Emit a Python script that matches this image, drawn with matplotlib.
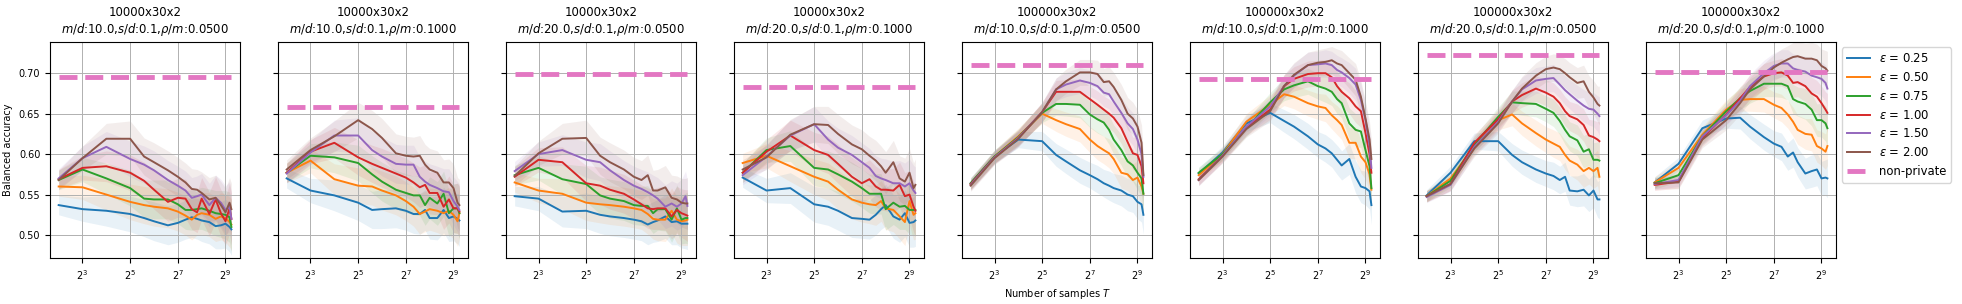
"""Balanced accuracy vs number of samples for private / non-private training."""
import matplotlib

matplotlib.use("Agg")
import matplotlib.pyplot as plt
import numpy as np
from matplotlib.ticker import NullLocator

# x grid shared by every panel (number of samples T)
SAMPLES = [4, 8, 16, 32, 48, 64, 96, 128, 160, 192, 224, 256, 320, 384, 448, 512, 576, 608]
EPSILONS = [0.25, 0.50, 0.75, 1.00, 1.50, 2.00]

SIZES = ["10000x30x2"] * 4 + ["100000x30x2"] * 4
M_OVER_D = [10.0, 10.0, 20.0, 20.0, 10.0, 10.0, 20.0, 20.0]
S_OVER_D = [0.1] * 8
RHO_OVER_M = [0.05, 0.10, 0.05, 0.10, 0.05, 0.10, 0.05, 0.10]
NON_PRIVATE = [0.695, 0.658, 0.699, 0.683, 0.710, 0.693, 0.723, 0.701]

# half-width of the shaded band (std) for the two dataset sizes
SPREAD_10K = [0.012, 0.015, 0.019, 0.022, 0.023, 0.024, 0.024, 0.024, 0.024,
              0.025, 0.025, 0.026, 0.027, 0.028, 0.029, 0.030, 0.031, 0.032]
SPREAD_100K = [0.007, 0.008, 0.010, 0.012, 0.014, 0.015, 0.016, 0.016, 0.017,
               0.017, 0.018, 0.018, 0.019, 0.020, 0.020, 0.021, 0.022, 0.024]

# one list per epsilon, in EPSILONS order
ACC_10K_MD10_R05 = [
    [0.537, 0.532, 0.530, 0.526, 0.521, 0.517, 0.512, 0.515, 0.519, 0.522, 0.520, 0.518, 0.516, 0.511, 0.512, 0.514, 0.510, 0.507],
    [0.560, 0.559, 0.550, 0.541, 0.537, 0.535, 0.533, 0.529, 0.524, 0.519, 0.525, 0.527, 0.525, 0.520, 0.523, 0.521, 0.516, 0.513],
    [0.568, 0.581, 0.570, 0.558, 0.545, 0.544, 0.544, 0.538, 0.531, 0.531, 0.532, 0.533, 0.530, 0.527, 0.526, 0.525, 0.522, 0.510],
    [0.569, 0.583, 0.585, 0.577, 0.567, 0.556, 0.541, 0.546, 0.545, 0.532, 0.528, 0.545, 0.526, 0.544, 0.527, 0.517, 0.533, 0.520],
    [0.570, 0.595, 0.609, 0.594, 0.587, 0.580, 0.568, 0.561, 0.555, 0.546, 0.548, 0.550, 0.537, 0.546, 0.540, 0.531, 0.535, 0.520],
    [0.568, 0.595, 0.619, 0.619, 0.597, 0.590, 0.580, 0.572, 0.565, 0.557, 0.556, 0.552, 0.544, 0.546, 0.537, 0.528, 0.540, 0.532],
]
ACC_10K_MD10_R10 = [
    [0.570, 0.555, 0.549, 0.540, 0.531, 0.532, 0.533, 0.530, 0.526, 0.526, 0.531, 0.521, 0.521, 0.531, 0.521, 0.523, 0.520, 0.518],
    [0.577, 0.592, 0.569, 0.561, 0.560, 0.555, 0.549, 0.542, 0.535, 0.526, 0.529, 0.532, 0.530, 0.527, 0.530, 0.525, 0.517, 0.527],
    [0.577, 0.598, 0.596, 0.589, 0.575, 0.566, 0.556, 0.552, 0.549, 0.549, 0.537, 0.546, 0.539, 0.551, 0.527, 0.533, 0.533, 0.527],
    [0.577, 0.603, 0.614, 0.596, 0.588, 0.583, 0.576, 0.571, 0.565, 0.559, 0.562, 0.552, 0.552, 0.535, 0.544, 0.533, 0.533, 0.529],
    [0.576, 0.602, 0.623, 0.623, 0.605, 0.597, 0.588, 0.587, 0.587, 0.572, 0.566, 0.562, 0.558, 0.554, 0.553, 0.542, 0.535, 0.531],
    [0.581, 0.605, 0.622, 0.642, 0.631, 0.620, 0.601, 0.598, 0.597, 0.598, 0.587, 0.581, 0.577, 0.565, 0.565, 0.558, 0.540, 0.537],
]
ACC_10K_MD20_R05 = [
    [0.548, 0.545, 0.529, 0.530, 0.525, 0.523, 0.521, 0.519, 0.517, 0.513, 0.516, 0.518, 0.523, 0.516, 0.517, 0.514, 0.514, 0.514],
    [0.565, 0.555, 0.551, 0.540, 0.538, 0.537, 0.535, 0.533, 0.531, 0.526, 0.520, 0.519, 0.519, 0.530, 0.519, 0.517, 0.518, 0.519],
    [0.574, 0.583, 0.569, 0.563, 0.549, 0.545, 0.542, 0.537, 0.536, 0.536, 0.527, 0.532, 0.532, 0.519, 0.533, 0.519, 0.521, 0.521],
    [0.572, 0.593, 0.590, 0.564, 0.561, 0.556, 0.551, 0.544, 0.538, 0.533, 0.532, 0.533, 0.533, 0.523, 0.531, 0.527, 0.525, 0.524],
    [0.579, 0.600, 0.605, 0.593, 0.590, 0.580, 0.568, 0.561, 0.557, 0.553, 0.549, 0.545, 0.535, 0.539, 0.535, 0.539, 0.548, 0.536],
    [0.573, 0.601, 0.619, 0.620, 0.598, 0.590, 0.581, 0.572, 0.568, 0.574, 0.555, 0.555, 0.559, 0.546, 0.544, 0.540, 0.539, 0.539],
]
ACC_10K_MD20_R10 = [
    [0.571, 0.555, 0.558, 0.538, 0.535, 0.530, 0.521, 0.520, 0.519, 0.525, 0.532, 0.537, 0.523, 0.519, 0.527, 0.515, 0.516, 0.518],
    [0.589, 0.598, 0.585, 0.572, 0.566, 0.556, 0.544, 0.540, 0.538, 0.537, 0.542, 0.533, 0.531, 0.523, 0.516, 0.542, 0.525, 0.527],
    [0.577, 0.605, 0.610, 0.583, 0.581, 0.575, 0.566, 0.558, 0.551, 0.551, 0.551, 0.532, 0.540, 0.535, 0.536, 0.531, 0.531, 0.531],
    [0.577, 0.603, 0.623, 0.605, 0.599, 0.588, 0.572, 0.564, 0.569, 0.560, 0.556, 0.556, 0.555, 0.562, 0.548, 0.550, 0.535, 0.530],
    [0.574, 0.597, 0.623, 0.637, 0.618, 0.608, 0.599, 0.590, 0.583, 0.573, 0.570, 0.568, 0.564, 0.564, 0.560, 0.564, 0.555, 0.552],
    [0.581, 0.596, 0.624, 0.637, 0.636, 0.625, 0.612, 0.606, 0.598, 0.592, 0.585, 0.577, 0.590, 0.570, 0.566, 0.577, 0.558, 0.562],
]
ACC_100K_MD10_R05 = [
    [0.564, 0.597, 0.618, 0.616, 0.599, 0.591, 0.580, 0.574, 0.569, 0.564, 0.561, 0.558, 0.555, 0.550, 0.548, 0.541, 0.538, 0.525],
    [0.563, 0.597, 0.622, 0.650, 0.642, 0.637, 0.631, 0.618, 0.610, 0.605, 0.601, 0.594, 0.577, 0.575, 0.568, 0.571, 0.560, 0.551],
    [0.564, 0.597, 0.621, 0.651, 0.662, 0.662, 0.661, 0.649, 0.643, 0.639, 0.630, 0.618, 0.605, 0.591, 0.586, 0.577, 0.570, 0.551],
    [0.563, 0.596, 0.620, 0.652, 0.677, 0.677, 0.677, 0.668, 0.661, 0.655, 0.650, 0.645, 0.632, 0.615, 0.601, 0.599, 0.585, 0.564],
    [0.562, 0.596, 0.620, 0.652, 0.680, 0.686, 0.691, 0.688, 0.684, 0.676, 0.674, 0.665, 0.651, 0.638, 0.631, 0.618, 0.600, 0.572],
    [0.561, 0.595, 0.619, 0.652, 0.680, 0.690, 0.701, 0.701, 0.699, 0.689, 0.690, 0.683, 0.667, 0.650, 0.644, 0.634, 0.614, 0.574],
]
ACC_100K_MD10_R10 = [
    [0.576, 0.602, 0.638, 0.651, 0.641, 0.634, 0.622, 0.612, 0.607, 0.601, 0.593, 0.586, 0.594, 0.572, 0.560, 0.558, 0.554, 0.537],
    [0.574, 0.600, 0.640, 0.661, 0.674, 0.671, 0.663, 0.659, 0.657, 0.648, 0.642, 0.636, 0.614, 0.614, 0.597, 0.590, 0.575, 0.556],
    [0.577, 0.600, 0.632, 0.664, 0.680, 0.685, 0.690, 0.684, 0.681, 0.677, 0.668, 0.663, 0.638, 0.630, 0.628, 0.605, 0.585, 0.558],
    [0.569, 0.598, 0.633, 0.655, 0.684, 0.693, 0.699, 0.700, 0.700, 0.695, 0.684, 0.677, 0.669, 0.659, 0.653, 0.626, 0.600, 0.577],
    [0.568, 0.598, 0.634, 0.659, 0.684, 0.697, 0.710, 0.711, 0.712, 0.710, 0.704, 0.701, 0.694, 0.686, 0.667, 0.642, 0.610, 0.583],
    [0.568, 0.597, 0.631, 0.653, 0.684, 0.698, 0.710, 0.713, 0.714, 0.716, 0.712, 0.710, 0.700, 0.692, 0.671, 0.644, 0.618, 0.594],
]
ACC_100K_MD20_R05 = [
    [0.549, 0.577, 0.616, 0.616, 0.599, 0.590, 0.581, 0.576, 0.573, 0.568, 0.572, 0.555, 0.554, 0.556, 0.549, 0.555, 0.544, 0.544],
    [0.548, 0.570, 0.609, 0.642, 0.649, 0.638, 0.626, 0.618, 0.613, 0.609, 0.599, 0.592, 0.587, 0.579, 0.583, 0.579, 0.583, 0.572],
    [0.548, 0.567, 0.612, 0.646, 0.664, 0.663, 0.662, 0.656, 0.651, 0.641, 0.630, 0.622, 0.617, 0.603, 0.606, 0.593, 0.593, 0.592],
    [0.548, 0.563, 0.614, 0.643, 0.665, 0.673, 0.681, 0.676, 0.671, 0.663, 0.653, 0.647, 0.643, 0.636, 0.623, 0.621, 0.618, 0.616],
    [0.547, 0.562, 0.609, 0.640, 0.665, 0.680, 0.691, 0.693, 0.694, 0.686, 0.679, 0.674, 0.666, 0.660, 0.656, 0.655, 0.650, 0.647],
    [0.548, 0.563, 0.607, 0.638, 0.665, 0.681, 0.697, 0.705, 0.707, 0.705, 0.700, 0.695, 0.688, 0.690, 0.677, 0.670, 0.662, 0.660],
]
ACC_100K_MD20_R10 = [
    [0.565, 0.588, 0.632, 0.644, 0.645, 0.634, 0.621, 0.613, 0.609, 0.597, 0.602, 0.590, 0.576, 0.579, 0.581, 0.570, 0.571, 0.570],
    [0.565, 0.583, 0.624, 0.655, 0.667, 0.668, 0.668, 0.661, 0.657, 0.649, 0.640, 0.630, 0.625, 0.624, 0.610, 0.607, 0.603, 0.610],
    [0.564, 0.574, 0.622, 0.653, 0.669, 0.678, 0.687, 0.687, 0.687, 0.684, 0.668, 0.665, 0.662, 0.655, 0.642, 0.642, 0.638, 0.632],
    [0.562, 0.566, 0.620, 0.649, 0.669, 0.683, 0.696, 0.700, 0.701, 0.697, 0.688, 0.689, 0.684, 0.675, 0.671, 0.663, 0.655, 0.651],
    [0.563, 0.568, 0.622, 0.648, 0.666, 0.684, 0.700, 0.709, 0.712, 0.712, 0.706, 0.704, 0.702, 0.697, 0.695, 0.693, 0.688, 0.681],
    [0.564, 0.565, 0.618, 0.642, 0.663, 0.680, 0.696, 0.707, 0.713, 0.717, 0.720, 0.721, 0.718, 0.718, 0.716, 0.709, 0.706, 0.703],
]

PANELS = [
    ACC_10K_MD10_R05, ACC_10K_MD10_R10, ACC_10K_MD20_R05, ACC_10K_MD20_R10,
    ACC_100K_MD10_R05, ACC_100K_MD10_R10, ACC_100K_MD20_R05, ACC_100K_MD20_R10,
]
SPREADS = [SPREAD_10K] * 4 + [SPREAD_100K] * 4

COLORS = ["#1f77b4", "#ff7f0e", "#2ca02c", "#d62728", "#9467bd", "#8c564b"]
NP_COLOR = "#e377c2"


def main():
    plt.rcParams.update({
        "font.size": 7,
        "axes.titlesize": 8.4,
        "axes.labelsize": 7,
        "xtick.labelsize": 7,
        "ytick.labelsize": 7,
        "axes.linewidth": 0.8,
        "grid.linewidth": 0.7,
    })
    fig, axes = plt.subplots(1, 8, figsize=(19.62, 3.04), dpi=100, sharey=True)
    fig.subplots_adjust(left=0.0255, right=0.9358, bottom=0.151, top=0.863, wspace=0.2)

    x = np.array(SAMPLES)
    for i, ax in enumerate(axes):
        spread = np.array(SPREADS[i])
        for eps, vals, color in zip(EPSILONS, PANELS[i], COLORS):
            y = np.array(vals)
            ax.fill_between(x, y - spread, y + spread, color=color, alpha=0.1, linewidth=0)
            ax.plot(x, y, color=color, lw=1.4, label=rf"$\varepsilon$ = {eps:.2f}")
        ax.plot(x, [NON_PRIVATE[i]] * len(x), color=NP_COLOR, lw=3.5, ls="--",
                label="non-private")

        ax.set_xscale("log", base=2)
        ax.set_xticks([8, 32, 128, 512])
        ax.xaxis.set_minor_locator(NullLocator())
        ax.set_yticks([0.50, 0.55, 0.60, 0.65, 0.70])
        ax.set_ylim(0.4715, 0.739)
        ax.grid(True)
        ax.set_title(
            f"{SIZES[i]}\n$m/d$:{M_OVER_D[i]:.1f},$s/d$:{S_OVER_D[i]:.1f},"
            rf"$\rho/m$:{RHO_OVER_M[i]:.4f}"
        )

    axes[0].set_ylabel("Balanced accuracy")
    axes[4].set_xlabel("Number of samples $T$")
    axes[-1].legend(loc="upper left", bbox_to_anchor=(1.0, 1.0), fontsize=8.4)

    fig.savefig("out.png", dpi=100)
    plt.close(fig)


if __name__ == "__main__":
    main()
